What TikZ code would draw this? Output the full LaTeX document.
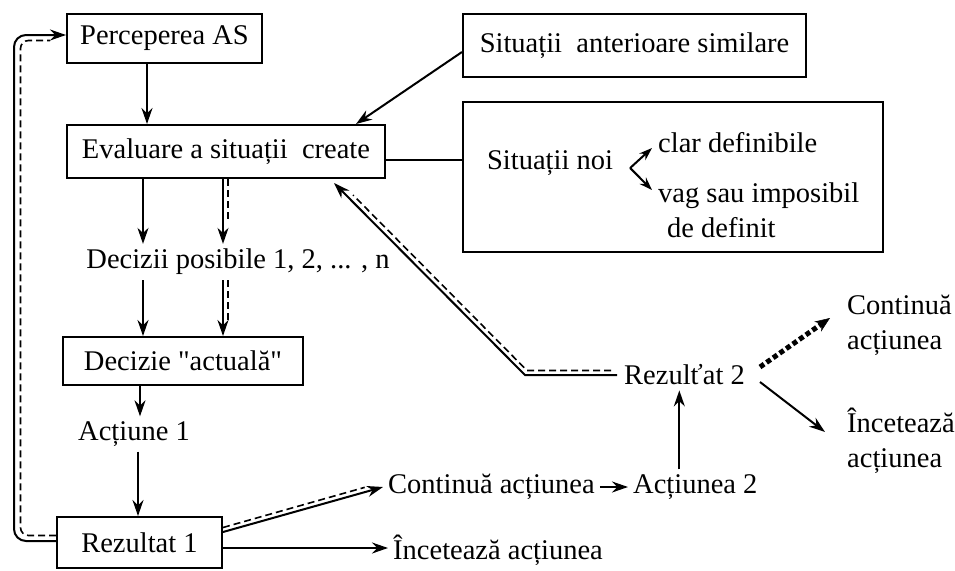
\documentclass[tikz,border=0pt]{standalone}
\usepackage{fontspec}
\setmainfont{Liberation Serif}
\newfontfamily\qfont{Liberation Serif}[Ligatures=TeXOff]
\usetikzlibrary{arrows.meta,calc}
\newcommand\fsz{\fontsize{28.5}{35}\selectfont}
\begin{document}
\begin{tikzpicture}[x=1pt,y=-1pt,
  tbox/.style={draw, line width=2pt, inner sep=0pt, font=\fsz},
  txt/.style={inner sep=5pt, font=\fsz},
  ln/.style={line width=2pt},
  arr/.style={line width=2pt, -{Stealth[length=16pt,width=11pt]}},
  sarr/.style={line width=2pt, -{Stealth[length=13pt,width=9pt]}},
  dsh/.style={line width=1.6pt, dash pattern=on 7pt off 4pt},
  thickdash/.style={line width=5pt, dash pattern=on 5pt off 3pt, -{Stealth[length=15pt,width=12pt,line width=0.5pt]}}]
\useasboundingbox (0,0) rectangle (955,570);

% nodes
\node[tbox, minimum width=195pt, minimum height=49pt] (perc) at (164.5,38.5) {Perceperea AS};
\node[tbox, minimum width=343pt, minimum height=63pt] (sitant) at (634.5,45.5) {Situații\ \ anterioare similare};
\node[tbox, minimum width=318pt, minimum height=53pt] (eval) at (226,151.5) {Evaluare a situații\ \ create};
\node[draw, line width=2pt, minimum width=420pt, minimum height=150pt] (nbox) at (673,177) {};
\node[txt] (sitnoi) at (550,163) {Situații noi};
\node[txt, anchor=west] (clar) at (653,143) {clar definibile};
\node[txt, anchor=west, align=left] (vag) at (653,210) {vag sau imposibil\\\hspace{9pt}de definit};
\node[txt] (decizii) at (238,262) {Decizii posibile 1, 2, ... , n};
\node[tbox, minimum width=240pt, minimum height=48pt] (decizie) at (183,361) {\qfont Decizie "actuală"};
\node[txt] (act1) at (134,434) {Acțiune 1};
\node[tbox, minimum width=165pt, minimum height=51pt] (rez1) at (139.5,542.5) {Rezultat 1};
\node[txt, anchor=west] (cont1) at (383,487) {Continuă acțiunea};
\node[txt, anchor=west] (act2) at (628,487) {Acțiunea 2};
\node[txt, anchor=west] (inc1) at (388,550) {Încetează acțiunea};
\node[txt] (rez2) at (684.5,375) {Rezulťat 2};
\node[txt, anchor=west, align=left] (cont2) at (842,325) {Continuă\\acțiunea};
\node[txt, anchor=west, align=left] (inc2) at (842,441) {Încetează\\acțiunea};

% Perceperea -> Evaluare
\coordinate (p1) at ([xshift=-17.5pt]perc.south);
\draw[arr] (p1) -- (p1 |- eval.north);
% Situatii anterioare -> Evaluare
\draw[arr] ([yshift=-6.5pt]sitant.west) -- ([xshift=-30pt]eval.north east);
% Evaluare -- Situatii noi box
\coordinate (e3) at ([yshift=-8pt]eval.east);
\draw[ln] (e3) -- (e3 -| nbox.west);
% chevron
\coordinate (cv) at ($(sitnoi.east)+(12,5)$);
\draw[sarr] (cv) -- ($(clar.west)+(-1,5)$);
\draw[sarr] (cv) -- ($(vag.west)+(-1,-20)$);

% Evaluare -> Decizii
\coordinate (e1) at ([xshift=-83pt]eval.south);
\coordinate (e2) at ([xshift=-3pt]eval.south);
\coordinate (d1) at (e1 |- decizii.north);
\coordinate (d2) at (e2 |- decizii.north);
\draw[arr] (e1) -- (d1);
\draw[arr] (e2) -- (d2);
\draw[dsh] ($(e2)+(5,0)$) -- ($(d2)+(5,-22)$);

% Decizii -> Decizie
\coordinate (f1) at (e1 |- decizii.south);
\coordinate (f2) at (e2 |- decizii.south);
\coordinate (g1) at (f1 |- decizie.north);
\coordinate (g2) at (f2 |- decizie.north);
\draw[arr] (f1) -- (g1);
\draw[arr] (f2) -- (g2);
\draw[dsh] ($(f2)+(5,0)$) -- ($(g2)+(5,-16)$);

% Decizie -> Actiune 1 -> Rezultat 1
\coordinate (h1) at ([xshift=-43pt]decizie.south);
\draw[arr] (h1) -- (h1 |- act1.north);
\coordinate (h2) at ([xshift=-1.5pt]rez1.north);
\draw[arr] (h2 |- act1.south) -- (h2);

% Rezultat 1 -> Continua actiunea (double)
\coordinate (r1a) at ([yshift=10.5pt]rez1.east);
\draw[arr] (r1a) -- (cont1.west);
\draw[dsh] ($(r1a)+(0,-4.5)$) -- ($(cont1.west)!18pt!(r1a)+(-1,-4.5)$);
% Rezultat 1 -> Inceteaza actiunea
\coordinate (r1b) at ([yshift=-5.5pt]rez1.east);
\draw[arr] (r1b) -- (r1b -| inc1.west);

% Continua actiunea -> Actiunea 2
\draw[arr] (cont1.east) -- (act2.west);
% Actiunea 2 -> Rezultat 2
\coordinate (v1) at ([xshift=-16pt]act2.north);
\draw[arr] (v1) -- (v1 |- rez2.south);

% Rezultat 2 -> Evaluare (double)
\coordinate (k0) at ($(rez2.west)+(-2,0)$);
\coordinate (k1) at ($(k0)+(-92,0)$);
\coordinate (k2) at ($(eval.south east)+(-52,4)$);
\draw[arr] (k0) -- (k1) -- (k2);
\draw[dsh] ($(k0)+(-6,-4.5)$) -- ($(k1)+(2,-4.5)$) -- ($(k2)+(19,12)$);

% Rezultat 2 -> right outcomes
\draw[thickdash] ($(rez2.east)+(10,-8)$) -- ($(cont2.west)+(-12,-7)$);
\draw[arr] ($(rez2.east)+(10,7)$) -- ($(inc2.west)+(-17,-9)$);

% feedback loop Rezultat 1 -> Perceperea (double)
\coordinate (lp) at (14,35);
\coordinate (lq) at (20.5,40.5);
\draw[arr, rounded corners=12pt] ($(rez1.west)+(0,-1.5)$) -| (lp) -- ($(perc.west)+(0,-3.5)$);
\draw[dsh, rounded corners=8pt] ($(rez1.west)+(0,-7)$) -| (lq) -- ($(perc.west)+(-16,2)$);
\end{tikzpicture}
\end{document}
